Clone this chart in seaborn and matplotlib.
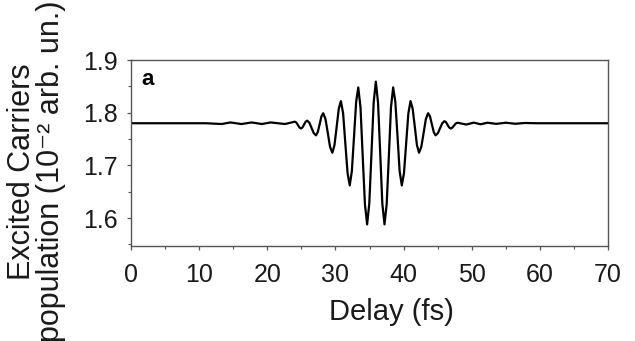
import matplotlib
matplotlib.use("Agg")
import matplotlib.pyplot as plt
from matplotlib.ticker import MultipleLocator
import seaborn as sns
import pandas as pd

# Curve (delay in fs, population in 1e-2 arb. un.)
delay = [
    0.0, 11.0,
    13.3, 14.6, 16.2, 17.7, 19.2, 20.5, 22.6,
    24.05, 24.275, 24.50, 24.725,
    24.95, 25.175, 25.40, 25.625,
    25.85, 26.175, 26.50, 26.825,
    27.15, 27.41, 27.68, 27.94,
    28.20, 28.54, 28.88, 29.21,
    29.55, 29.86, 30.18, 30.49,
    30.80, 31.13, 31.45, 31.78,
    32.10, 32.41, 32.73, 33.04,
    33.35, 33.68, 34.00, 34.33,
    34.65, 34.97, 35.29, 35.61,
    35.93, 36.25, 36.57, 36.88,
    37.20, 37.52, 37.84, 38.15,
    38.47, 38.79, 39.11, 39.42,
    39.74, 40.06, 40.38, 40.70,
    41.02, 41.33, 41.65, 41.96,
    42.27, 42.60, 42.94, 43.27,
    43.60, 43.88, 44.15, 44.43,
    44.70, 45.03, 45.35, 45.68,
    46.00, 46.23, 46.45, 46.68,
    46.90, 47.15, 47.40, 47.65,
    47.90,
    49.2, 50.3, 51.3, 52.3, 53.6, 55.0, 56.4, 57.8, 59.5, 70.0,
]
population = [
    1.7800, 1.7800,
    1.7785, 1.7815, 1.7785, 1.7815, 1.7785, 1.7815, 1.7785,
    1.7830, 1.7811, 1.7765, 1.7719,
    1.7700, 1.7722, 1.7775, 1.7828,
    1.7850, 1.7809, 1.7710, 1.7611,
    1.7570, 1.7632, 1.7780, 1.7928,
    1.7990, 1.7880, 1.7615, 1.7350,
    1.7240, 1.7384, 1.7730, 1.8076,
    1.8220, 1.7986, 1.7420, 1.6854,
    1.6620, 1.6892, 1.7550, 1.8208,
    1.8480, 1.8099, 1.7180, 1.6261,
    1.5880, 1.6277, 1.7235, 1.8193,
    1.8590, 1.8193, 1.7235, 1.6277,
    1.5880, 1.6261, 1.7180, 1.8099,
    1.8480, 1.8208, 1.7550, 1.6892,
    1.6620, 1.6854, 1.7420, 1.7986,
    1.8220, 1.8076, 1.7730, 1.7384,
    1.7240, 1.7350, 1.7615, 1.7880,
    1.7990, 1.7928, 1.7780, 1.7632,
    1.7570, 1.7610, 1.7705, 1.7800,
    1.7840, 1.7819, 1.7770, 1.7721,
    1.7700, 1.7716, 1.7755, 1.7794,
    1.7810,
    1.7775, 1.7812, 1.7780, 1.7810, 1.7788, 1.7810, 1.7790, 1.7805, 1.7800, 1.7800,
]

x_ticks = [0, 10, 20, 30, 40, 50, 60, 70]
y_ticks = [1.6, 1.7, 1.8, 1.9]

sns.set_theme(style="ticks")
plt.rcParams["font.family"] = ["Liberation Sans", "DejaVu Sans"]

df = pd.DataFrame({"Delay": delay, "Population": population})

fig = plt.figure(figsize=(6.35, 3.41), dpi=100)
ax = fig.add_axes([0.2063, 0.2786, 0.7512, 0.5454])

sns.lineplot(data=df, x="Delay", y="Population", ax=ax, color="black",
             linewidth=1.6, estimator=None, sort=False)

ax.set_xlim(0, 70)
ax.set_ylim(1.547, 1.9)
ax.set_xticks(x_ticks)
ax.set_yticks(y_ticks)
ax.set_xticklabels([str(t) for t in x_ticks])
ax.set_yticklabels([f"{t:.1f}" for t in y_ticks])
ax.xaxis.set_minor_locator(MultipleLocator(5))
ax.yaxis.set_minor_locator(MultipleLocator(0.05))

spine_col = "#555555"
for s in ax.spines.values():
    s.set_visible(True)
    s.set_color(spine_col)
    s.set_linewidth(1.0)

ax.tick_params(which="major", direction="out", length=3, width=0.9,
               color=spine_col, labelsize=18, labelcolor="#1a1a1a")
ax.tick_params(which="minor", direction="out", length=2, width=0.8,
               color=spine_col)
ax.tick_params(axis="x", which="major", pad=9.5)
ax.tick_params(axis="y", which="major", pad=6.5)

ax.set_xlabel("Delay (fs)", fontsize=21, color="#1a1a1a", labelpad=7)
ax.xaxis.set_label_coords(0.547, -0.28)
ax.xaxis.label.set_va("top")
ax.set_ylabel("Excited Carriers\npopulation (10\u207b\u00b2 arb. un.)",
              fontsize=22, color="#1a1a1a", linespacing=0.92)
ax.yaxis.set_label_coords(-0.137, 0.40)

ax.text(0.022, 0.866, "a", transform=ax.transAxes, fontsize=16,
        fontweight="bold", ha="left", va="baseline", color="black")

fig.savefig("out.png", dpi=100)
